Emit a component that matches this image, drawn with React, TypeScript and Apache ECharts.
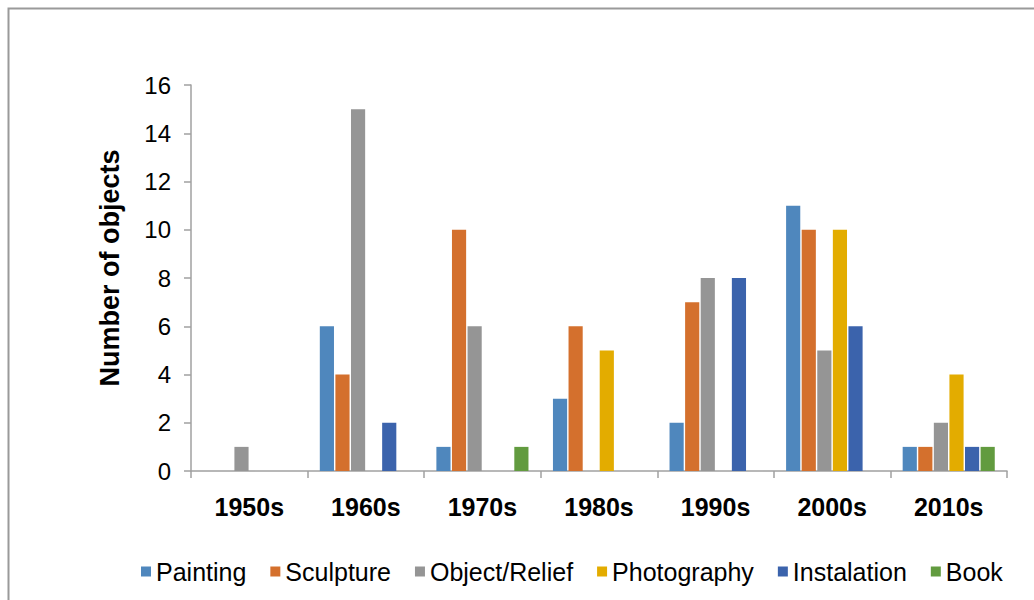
import React, { useEffect, useRef } from "react";
import * as echarts from "echarts";

const categories = ["1950s", "1960s", "1970s", "1980s", "1990s", "2000s", "2010s"];
const seriesNames = ["Painting", "Sculpture", "Object/Relief", "Photography", "Instalation", "Book"];
const painting = [0, 6, 1, 3, 2, 11, 1];
const sculpture = [0, 4, 10, 6, 7, 10, 1];
const objectRelief = [1, 15, 6, 0, 8, 5, 2];
const photography = [0, 0, 0, 5, 0, 10, 4];
const instalation = [0, 2, 0, 0, 8, 6, 1];
const book = [0, 0, 1, 0, 0, 0, 1];
const colors = ["#4f87bd", "#d4702d", "#959595", "#e3ac00", "#3b63ac", "#629b3f"];
const yTicks = { min: 0, max: 16, interval: 2 };

export default function App() {
  const ref = useRef<HTMLDivElement>(null);
  useEffect(() => {
    document.body.style.margin = "0";
    const chart = echarts.init(ref.current!, null, { renderer: "svg" });
    const all = [painting, sculpture, objectRelief, photography, instalation, book];
    chart.setOption({
      animation: false,
      textStyle: { fontFamily: "Liberation Sans, Arial, sans-serif" },
      graphic: [
        {
          type: "rect",
          shape: { x: 8.5, y: 8.5, width: 1200, height: 800 },
          style: { fill: "none", stroke: "#9a9a9a", lineWidth: 2 },
          silent: true,
        },
      ],
      grid: { left: 191, right: 27, top: 85, bottom: 129, containLabel: false },
      legend: {
        data: seriesNames,
        left: 136,
        top: 554,
        itemWidth: 10,
        itemHeight: 10,
        itemGap: 24,
        icon: "rect",
        textStyle: { fontSize: 25, color: "#000", fontFamily: "Liberation Sans, Arial, sans-serif", padding: [0, 0, 0, 0] },
      },
      xAxis: {
        type: "category",
        data: categories,
        axisLine: { lineStyle: { color: "#a0a0a0", width: 1.5 } },
        axisTick: { show: true, length: 7, lineStyle: { color: "#a0a0a0", width: 1.5 } },
        axisLabel: { fontSize: 25, fontWeight: "bold", color: "#000", margin: 23 },
      },
      yAxis: {
        type: "value",
        min: yTicks.min,
        max: yTicks.max,
        interval: yTicks.interval,
        name: "Number of objects",
        nameLocation: "middle",
        nameGap: 68,
        nameTextStyle: { fontSize: 27, fontWeight: "bold", color: "#000", padding: [0, 0, 0, 20] },
        axisLine: { show: true, lineStyle: { color: "#a0a0a0", width: 1.5 } },
        axisTick: { show: true, length: 7, lineStyle: { color: "#a0a0a0", width: 1.5 } },
        splitLine: { show: false },
        axisLabel: { fontSize: 24, color: "#000", margin: 20 },
      },
      series: seriesNames.map((n, i) => ({
        name: n,
        type: "bar",
        data: all[i],
        barGap: "10%",
        barCategoryGap: "21%",
        itemStyle: { color: colors[i] },
      })),
    });
    return () => chart.dispose();
  }, []);
  return <div ref={ref} style={{ width: 1034, height: 600 }} />;
}
